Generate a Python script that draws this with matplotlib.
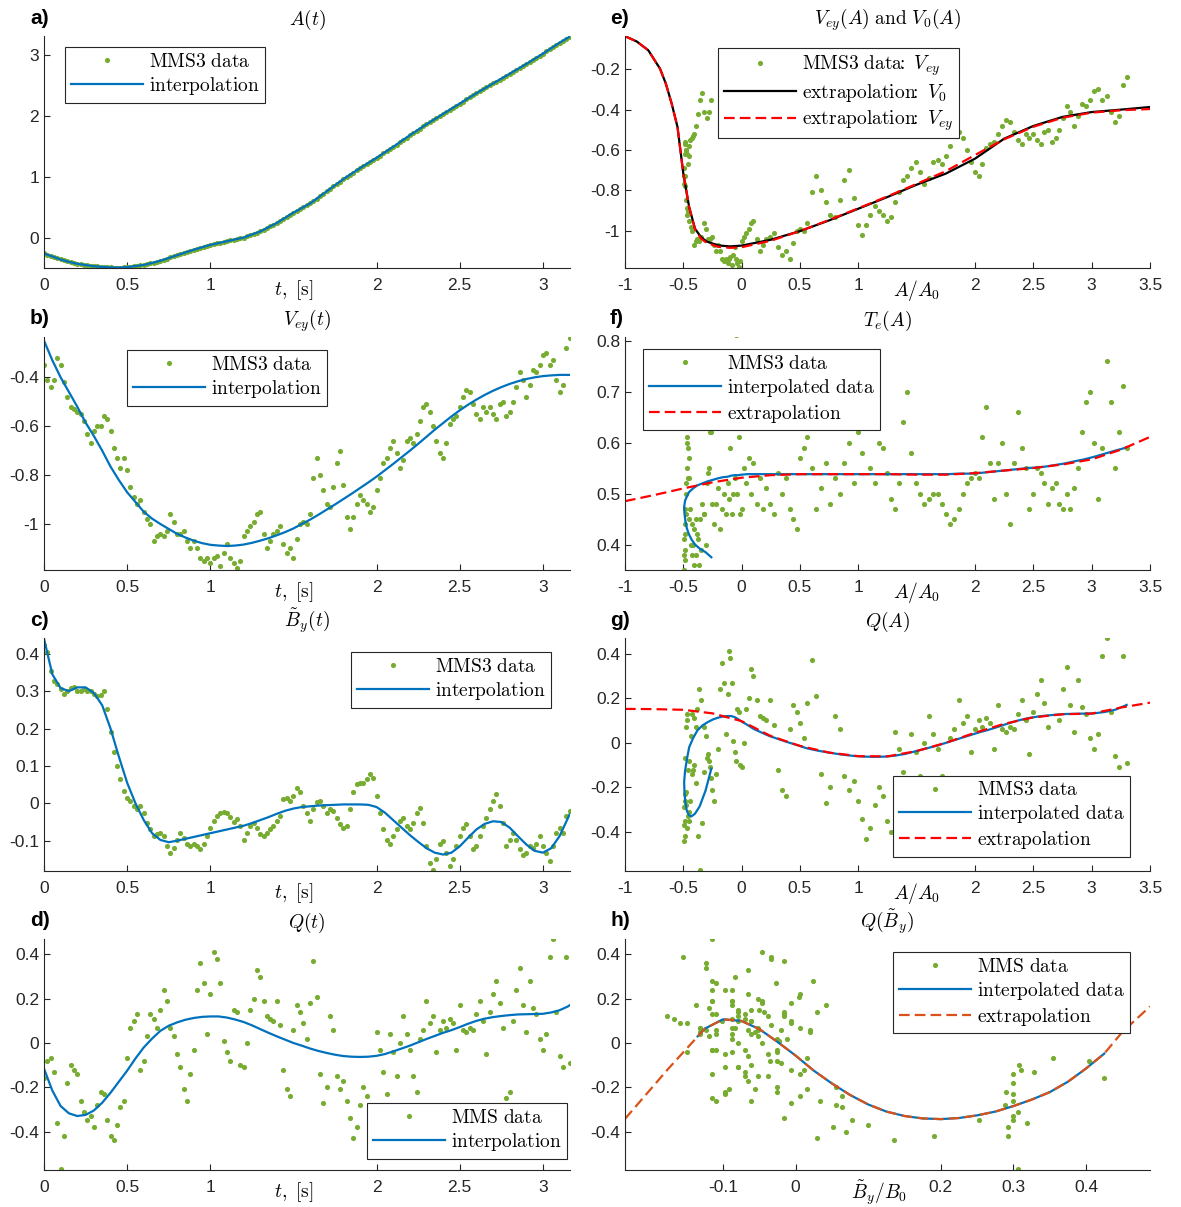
import numpy as np
import matplotlib
matplotlib.use('Agg')
import matplotlib.pyplot as plt
from matplotlib.lines import Line2D

plt.rcParams['mathtext.fontset'] = 'cm'
plt.rcParams['axes.unicode_minus'] = False
plt.rcParams['font.family'] = ['Liberation Sans', 'DejaVu Sans']

GREEN = '#77AC30'
BLUE = '#0072BD'
RED = '#FF0000'
ORANGE = '#D95319'
AXC = '#262626'

# ---------------- data: MMS3 time series (sampled every 0.02 s) ----------------
t = np.round(np.arange(159) * 0.02, 2)

a_data = [
    -0.26, -0.28, -0.30, -0.32, -0.34, -0.36, -0.375, -0.39, -0.405, -0.42,
    -0.43, -0.44, -0.448, -0.455, -0.463, -0.47, -0.475, -0.48, -0.484, -0.487,
    -0.49, -0.492, -0.493, -0.492, -0.489, -0.485, -0.479, -0.472, -0.465, -0.458,
    -0.45, -0.438, -0.424, -0.41, -0.395, -0.38, -0.363, -0.345, -0.327, -0.309,
    -0.29, -0.272, -0.254, -0.236, -0.218, -0.20, -0.184, -0.168, -0.152, -0.136,
    -0.12, -0.108, -0.096, -0.084, -0.072, -0.06, -0.048, -0.036, -0.024, -0.012,
    0.0, 0.02, 0.04, 0.06, 0.08, 0.10, 0.128, 0.156, 0.184, 0.212,
    0.24, 0.274, 0.308, 0.342, 0.376, 0.41, 0.44, 0.47, 0.50, 0.53,
    0.56, 0.60, 0.64, 0.68, 0.72, 0.76, 0.80, 0.84, 0.88, 0.92,
    0.96, 0.996, 1.032, 1.068, 1.104, 1.14, 1.174, 1.208, 1.242, 1.276,
    1.31, 1.346, 1.382, 1.418, 1.454, 1.49, 1.528, 1.566, 1.604, 1.642,
    1.68, 1.716, 1.752, 1.788, 1.824, 1.86, 1.894, 1.928, 1.962, 1.996,
    2.03, 2.064, 2.098, 2.132, 2.166, 2.20, 2.234, 2.268, 2.302, 2.336,
    2.37, 2.402, 2.434, 2.466, 2.498, 2.53, 2.562, 2.594, 2.626, 2.658,
    2.69, 2.722, 2.754, 2.786, 2.818, 2.85, 2.884, 2.918, 2.952, 2.986,
    3.02, 3.056, 3.092, 3.128, 3.164, 3.20, 3.235, 3.265, 3.30]

vey_data = [
    -0.35, -0.41, -0.44, -0.41, -0.32, -0.35, -0.42, -0.48, -0.52, -0.53,
    -0.54, -0.55, -0.58, -0.63, -0.67, -0.62, -0.60, -0.60, -0.56, -0.57,
    -0.62, -0.69, -0.73, -0.77, -0.73, -0.78, -0.85, -0.89, -0.92, -0.90,
    -0.95, -0.98, -1.00, -1.07, -1.05, -1.04, -1.05, -1.03, -0.96, -0.99,
    -1.04, -1.04, -1.03, -1.07, -1.10, -1.07, -1.10, -1.14, -1.15, -1.14,
    -1.16, -1.14, -1.13, -1.17, -1.12, -1.08, -1.14, -1.16, -1.18, -1.15,
    -1.05, -1.03, -1.01, -0.99, -0.96, -0.95, -1.04, -1.10, -1.07, -1.04,
    -1.03, -1.01, -1.08, -1.12, -1.10, -1.14, -1.06, -1.00, -0.99, -1.00,
    -0.96, -0.81, -0.73, -0.80, -0.86, -0.92, -0.93, -0.85, -0.75, -0.70,
    -0.84, -0.97, -1.02, -0.97, -0.92, -0.88, -0.90, -0.92, -0.95, -0.93,
    -0.86, -0.81, -0.75, -0.73, -0.69, -0.66, -0.71, -0.77, -0.74, -0.66,
    -0.65, -0.67, -0.63, -0.58, -0.52, -0.51, -0.54, -0.60, -0.66, -0.71,
    -0.73, -0.67, -0.59, -0.57, -0.56, -0.52, -0.48, -0.45, -0.46, -0.51,
    -0.55, -0.57, -0.52, -0.54, -0.52, -0.55, -0.57, -0.51, -0.50, -0.56,
    -0.54, -0.50, -0.44, -0.38, -0.41, -0.48, -0.43, -0.37, -0.38, -0.35,
    -0.31, -0.30, -0.35, -0.33, -0.41, -0.46, -0.43, -0.28, -0.24]

by_data = [
    0.424, 0.404, 0.355, 0.328, 0.319, 0.306, 0.292, 0.299, 0.308, 0.31,
    0.30, 0.30, 0.306, 0.30, 0.30, 0.292, 0.288, 0.29, 0.30, 0.252,
    0.19, 0.136, 0.10, 0.064, 0.033, 0.015, 0.006, -0.007, -0.016, -0.007,
    -0.025, -0.052, -0.07, -0.088, -0.083, -0.079, -0.088, -0.115, -0.132, -0.119,
    -0.097, -0.079, -0.092, -0.11, -0.115, -0.11, -0.115, -0.123, -0.11, -0.088,
    -0.065, -0.047, -0.034, -0.027, -0.023, -0.025, -0.036, -0.05, -0.043, -0.061,
    -0.097, -0.079, -0.061, -0.052, -0.065, -0.083, -0.088, -0.079, -0.07, -0.061,
    -0.047, -0.034, 0.011, 0.015, 0.006, 0.02, 0.042, 0.029, -0.007, -0.025,
    -0.047, -0.016, 0.004, 0.006, -0.007, -0.025, -0.016, -0.02, -0.038, -0.056,
    -0.065, -0.061, -0.016, 0.029, 0.051, 0.055, 0.055, 0.064, 0.078, 0.069,
    0.02, -0.025, -0.07, -0.097, -0.11, -0.088, -0.07, -0.047, -0.038, -0.061,
    -0.07, -0.052, -0.025, -0.012, -0.052, -0.115, -0.159, -0.177, -0.15, -0.11,
    -0.101, -0.132, -0.168, -0.15, -0.115, -0.088, -0.065, -0.056, -0.088, -0.123,
    -0.115, -0.088, -0.061, -0.038, -0.016, 0.006, 0.024, -0.007, -0.052, -0.115,
    -0.097, -0.079, -0.097, -0.123, -0.137, -0.132, -0.115, -0.119, -0.11, -0.088,
    -0.115, -0.132, -0.155, -0.115, -0.079, -0.065, -0.079, -0.034, -0.02]

q_data = [
    -0.16, -0.08, -0.07, -0.13, -0.36, -0.57, -0.42, -0.18, -0.10, -0.12,
    -0.14, -0.26, -0.31, -0.35, -0.33, -0.38, -0.28, -0.22, -0.23, -0.35,
    -0.42, -0.44, -0.37, -0.29, -0.26, -0.07, 0.07, 0.10, 0.13, -0.12,
    -0.08, 0.03, 0.13, 0.11, 0.07, 0.15, 0.24, 0.19, 0.07, 0.03,
    -0.05, -0.11, -0.21, -0.26, -0.14, -0.03, 0.24, 0.36, 0.27, 0.04,
    0.22, 0.41, 0.38, 0.27, 0.01, -0.04, -0.08, 0.15, 0.14, -0.10,
    -0.11, 0.0, 0.15, 0.20, 0.33, 0.30, 0.19, 0.12, 0.11, 0.10,
    0.19, 0.08, -0.12, -0.21, -0.24, 0.06, 0.17, 0.14, 0.09, 0.02,
    0.18, 0.37, 0.21, -0.14, -0.27, -0.20, 0.12, 0.06, -0.15, -0.21,
    -0.17, -0.26, -0.34, -0.43, -0.38, -0.28, -0.20, -0.24, -0.35, -0.40,
    0.05, -0.03, -0.13, -0.23, 0.04, -0.04, -0.15, 0.0, 0.12, 0.04,
    -0.03, -0.15, -0.22, 0.02, 0.06, 0.19, 0.09, 0.12, -0.04, 0.06,
    0.10, 0.07, 0.11, 0.09, -0.03, 0.17, 0.06, 0.05, 0.07, 0.06,
    0.13, 0.19, 0.10, -0.05, 0.14, 0.22, 0.28, 0.18, 0.07, -0.25,
    -0.22, 0.10, 0.24, 0.34, 0.17, 0.05, 0.28, 0.16, 0.13, 0.02,
    -0.03, 0.04, 0.39, 0.47, 0.14, -0.06, -0.11, 0.39, -0.09]

te_data = [
    0.62, 0.55, 0.52, 0.46, 0.48, 0.45, 0.41, 0.38, 0.36, 0.40,
    0.44, 0.47, 0.53, 0.57, 0.59, 0.55, 0.50, 0.46, 0.42, 0.39,
    0.37, 0.35, 0.38, 0.41, 0.44, 0.47, 0.52, 0.61, 0.60, 0.53,
    0.45, 0.40, 0.38, 0.43, 0.45, 0.42, 0.36, 0.39, 0.46, 0.40,
    0.54, 0.62, 0.48, 0.44, 0.48, 0.51, 0.43, 0.47, 0.50, 0.46,
    0.52, 0.49, 0.59, 0.46, 0.50, 0.53, 0.81, 0.50, 0.61, 0.46,
    0.47, 0.55, 0.52, 0.57, 0.50, 0.56, 0.48, 0.53, 0.47, 0.51,
    0.48, 0.46, 0.54, 0.50, 0.53, 0.47, 0.45, 0.43, 0.57, 0.59,
    0.61, 0.55, 0.47, 0.51, 0.56, 0.48, 0.53, 0.50, 0.56, 0.60,
    0.52, 0.62, 0.58, 0.63, 0.55, 0.52, 0.60, 0.59, 0.54, 0.49,
    0.47, 0.52, 0.64, 0.70, 0.58, 0.52, 0.50, 0.48, 0.49, 0.50,
    0.50, 0.48, 0.46, 0.44, 0.45, 0.47, 0.50, 0.52, 0.53, 0.54,
    0.53, 0.61, 0.67, 0.56, 0.49, 0.56, 0.60, 0.50, 0.44, 0.56,
    0.66, 0.59, 0.55, 0.47, 0.50, 0.55, 0.54, 0.52, 0.48, 0.51,
    0.52, 0.48, 0.47, 0.50, 0.47, 0.51, 0.55, 0.62, 0.68, 0.70,
    0.60, 0.49, 0.59, 0.76, 0.68, 0.55, 0.62, 0.71, 0.59]

# ---------------- interpolation curves (every 0.05 s) ----------------
t_c = np.append(np.round(np.arange(64) * 0.05, 2), 3.16)

a_int = [
    -0.26, -0.31, -0.36, -0.40, -0.43, -0.452, -0.47, -0.482, -0.49, -0.493,
    -0.485, -0.468, -0.45, -0.417, -0.38, -0.336, -0.29, -0.245, -0.20, -0.16,
    -0.12, -0.09, -0.06, -0.03, 0.0, 0.05, 0.10, 0.17, 0.24, 0.325,
    0.41, 0.485, 0.56, 0.66, 0.76, 0.86, 0.96, 1.05, 1.14, 1.225,
    1.31, 1.40, 1.49, 1.585, 1.68, 1.77, 1.86, 1.945, 2.03, 2.115,
    2.20, 2.285, 2.37, 2.45, 2.53, 2.61, 2.69, 2.77, 2.85, 2.935,
    3.02, 3.11, 3.20, 3.28, 3.30]

vey_int = [
    -0.25, -0.33, -0.40, -0.46, -0.52, -0.585, -0.64, -0.70, -0.765, -0.82,
    -0.87, -0.91, -0.95, -0.978, -1.00, -1.02, -1.04, -1.055, -1.068, -1.078,
    -1.085, -1.088, -1.09, -1.088, -1.084, -1.077, -1.068, -1.058, -1.046, -1.033,
    -1.018, -1.00, -0.982, -0.962, -0.941, -0.92, -0.898, -0.876, -0.853, -0.83,
    -0.806, -0.78, -0.754, -0.727, -0.70, -0.672, -0.643, -0.614, -0.587, -0.56,
    -0.535, -0.512, -0.491, -0.472, -0.455, -0.44, -0.427, -0.416, -0.407, -0.40,
    -0.395, -0.392, -0.39, -0.39, -0.39]

by_int = [
    0.44, 0.345, 0.308, 0.30, 0.31, 0.31, 0.295, 0.262, 0.20, 0.125,
    0.055, 0.0, -0.045, -0.08, -0.098, -0.104, -0.10, -0.095, -0.09, -0.085,
    -0.08, -0.075, -0.07, -0.065, -0.06, -0.053, -0.045, -0.037, -0.028, -0.02,
    -0.014, -0.01, -0.008, -0.006, -0.005, -0.004, -0.003, -0.003, -0.003, -0.004,
    -0.01, -0.025, -0.045, -0.065, -0.085, -0.103, -0.12, -0.132, -0.137, -0.132,
    -0.115, -0.092, -0.07, -0.055, -0.048, -0.05, -0.065, -0.088, -0.11, -0.127,
    -0.132, -0.12, -0.088, -0.04, -0.03]

q_int = [
    -0.116, -0.215, -0.285, -0.318, -0.33, -0.325, -0.305, -0.27, -0.225, -0.175,
    -0.125, -0.07, -0.02, 0.02, 0.055, 0.078, 0.093, 0.105, 0.113, 0.118,
    0.12, 0.12, 0.115, 0.106, 0.095, 0.08, 0.063, 0.046, 0.03, 0.015,
    0.0, -0.012, -0.025, -0.036, -0.045, -0.053, -0.059, -0.062, -0.063, -0.062,
    -0.058, -0.05, -0.038, -0.025, -0.012, 0.003, 0.018, 0.032, 0.046, 0.058,
    0.072, 0.087, 0.10, 0.11, 0.117, 0.122, 0.126, 0.129, 0.13, 0.131,
    0.132, 0.138, 0.148, 0.165, 0.17]

te_int = [
    0.375, 0.385, 0.392, 0.40, 0.41, 0.42, 0.432, 0.446, 0.46, 0.474,
    0.486, 0.495, 0.503, 0.51, 0.516, 0.52, 0.524, 0.527, 0.53, 0.532,
    0.533, 0.535, 0.536, 0.536, 0.537, 0.538, 0.538, 0.538, 0.538, 0.538,
    0.538, 0.538, 0.538, 0.538, 0.538, 0.538, 0.538, 0.538, 0.538, 0.538,
    0.538, 0.538, 0.538, 0.538, 0.538, 0.538, 0.539, 0.539, 0.540, 0.542,
    0.544, 0.546, 0.548, 0.55, 0.551, 0.553, 0.556, 0.559, 0.563, 0.567,
    0.572, 0.578, 0.584, 0.589, 0.591]

# ---------------- extrapolations as functions of A/A0 ----------------
e_A = [-1, -0.9, -0.8, -0.7, -0.65, -0.6, -0.55, -0.5, -0.45, -0.4, -0.35, -0.3,
       -0.2, -0.1, 0, 0.25, 0.5, 0.75, 1, 1.25, 1.5, 1.75, 2, 2.25, 2.5, 2.75,
       3, 3.25, 3.5]
v0_ext = [-0.036, -0.062, -0.106, -0.197, -0.271, -0.37, -0.486, -0.717, -0.883,
          -0.99, -1.031, -1.054, -1.073, -1.078, -1.074, -1.045, -1.002, -0.949,
          -0.891, -0.833, -0.772, -0.717, -0.643, -0.544, -0.481, -0.436, -0.412,
          -0.40, -0.387]
vey_ext = [-0.036, -0.062, -0.106, -0.197, -0.271, -0.37, -0.486, -0.717, -0.883,
           -0.993, -1.038, -1.061, -1.08, -1.085, -1.082, -1.05, -1.002, -0.947,
           -0.889, -0.83, -0.768, -0.705, -0.625, -0.547, -0.485, -0.44, -0.415,
           -0.403, -0.397]

x_A = [-1, -0.75, -0.5, -0.25, 0, 0.25, 0.5, 0.75, 1, 1.25, 1.5, 1.75, 2,
       2.25, 2.5, 2.75, 3, 3.25, 3.5]
te_ext = [0.485, 0.497, 0.51, 0.522, 0.531, 0.536, 0.538, 0.538, 0.538, 0.538,
          0.537, 0.537, 0.54, 0.545, 0.55, 0.557, 0.567, 0.586, 0.611]
q_ext = [0.152, 0.151, 0.148, 0.132, 0.097, 0.03, -0.014, -0.044, -0.06, -0.061,
         -0.037, 0.0, 0.045, 0.085, 0.114, 0.128, 0.131, 0.158, 0.18]

# ---------------- Q as a function of B_y ----------------
hb_ext = [-0.235, -0.2, -0.175, -0.15, -0.125, -0.1, -0.075, -0.05, -0.025, 0,
          0.025, 0.05, 0.075, 0.1, 0.125, 0.15, 0.175, 0.2, 0.225, 0.25, 0.275,
          0.3, 0.325, 0.35, 0.375, 0.4, 0.425, 0.45, 0.488]
hq_ext = [-0.343, -0.21, -0.115, -0.025, 0.065, 0.107, 0.10, 0.063, 0.005, -0.057,
          -0.125, -0.183, -0.235, -0.278, -0.31, -0.33, -0.341, -0.344, -0.339,
          -0.327, -0.31, -0.285, -0.256, -0.222, -0.175, -0.115, -0.048, 0.05, 0.165]
hb_int = [-0.135, -0.125, -0.1, -0.075, -0.05, -0.025, 0, 0.025, 0.05, 0.075, 0.1,
          0.125, 0.15, 0.175, 0.2, 0.225, 0.25, 0.275, 0.3, 0.325, 0.35, 0.375,
          0.4, 0.425]
hq_int = [0.03, 0.065, 0.107, 0.10, 0.063, 0.005, -0.057, -0.125, -0.183, -0.235,
          -0.278, -0.31, -0.33, -0.341, -0.344, -0.339, -0.327, -0.31, -0.285,
          -0.256, -0.222, -0.175, -0.115, -0.048]

# ---------------- tick labels ----------------
t_ticks = [0, 0.5, 1, 2, 2.5, 3]
t_labels = ['0', '0.5', '1', '2', '2.5', '3']
A_ticks = [-1, -0.5, 0, 0.5, 1, 2, 2.5, 3, 3.5]
A_labels = ['-1', '-0.5', '0', '0.5', '1', '2', '2.5', '3', '3.5']
B_ticks = [-0.1, 0, 0.2, 0.3, 0.4]
B_labels = ['-0.1', '0', '0.2', '0.3', '0.4']

# ======================================================================
W, H = 1181, 1207
fig = plt.figure(figsize=(W / 100, H / 100), dpi=100)
COLS = {'L': (44, 570), 'R': (625, 1150)}
ROWS = [(36, 268), (337, 570), (638, 871), (939, 1170)]
PIX = {}

MS = 3.7
LW = 1.6
DASH = (4.8, 2.3)


def make_axes(col, row):
    x0, x1 = COLS[col]
    y0, y1 = ROWS[row]
    ax = fig.add_axes([x0 / W, 1 - y1 / H, (x1 - x0) / W, (y1 - y0) / H])
    PIX[ax] = (x0, x1, y0, y1)
    return ax


def style(ax, xlim, ylim, xt, xtl, yt, ytl):
    ax.set_xlim(*xlim)
    ax.set_ylim(*ylim)
    for s in ('top', 'right'):
        ax.spines[s].set_visible(False)
    for s in ('left', 'bottom'):
        ax.spines[s].set_color(AXC)
        ax.spines[s].set_linewidth(0.8)
    ax.set_xticks(xt)
    ax.set_xticklabels(xtl)
    ax.set_yticks(yt)
    ax.set_yticklabels(ytl)
    ax.tick_params(direction='in', length=4.5, width=0.8, colors=AXC, labelsize=12.5)
    ax.tick_params(axis='x', pad=7)
    ax.tick_params(axis='y', pad=3.5)


def xlab(ax, x, s):
    ax.annotate(s, xy=(x, 0), xycoords=('data', 'axes fraction'), xytext=(0, -16),
                textcoords='offset points', ha='center', va='center', fontsize=14,
                annotation_clip=False)


def title(ax, s):
    ax.set_title(s, fontsize=14, pad=8)


def legend(ax, handles, labels, px, py, loc):
    x0, x1, y0, y1 = PIX[ax]
    bx = (px - x0) / (x1 - x0)
    by = (y1 - py) / (y1 - y0)
    leg = ax.legend(handles, labels, loc=loc, bbox_to_anchor=(bx, by),
                    borderaxespad=0, fontsize=14, handlelength=3.7,
                    handletextpad=0.3, borderpad=0.3, labelspacing=0.2,
                    frameon=True, fancybox=False, framealpha=1, edgecolor=AXC)
    leg.get_frame().set_linewidth(0.8)
    return leg


dot_h = Line2D([], [], ls='none', marker='o', ms=MS, mfc=GREEN, mec='none')
blue_h = Line2D([], [], color=BLUE, lw=LW)
black_h = Line2D([], [], color='black', lw=LW)
red_h = Line2D([], [], color=RED, lw=LW, dashes=DASH)
orange_h = Line2D([], [], color=ORANGE, lw=LW, dashes=DASH)

L_MMS3 = r'$\mathrm{MMS3\ data}$'
L_MMS = r'$\mathrm{MMS\ data}$'
L_INT = r'$\mathrm{interpolation}$'
L_INTD = r'$\mathrm{interpolated\ data}$'
L_EXT = r'$\mathrm{extrapolation}$'


def dots(ax, x, y):
    ax.plot(x, y, ls='none', marker='o', ms=MS, mfc=GREEN, mec='none')


tlim = (0, 3.163)

# ---- a) A(t)
ax = make_axes('L', 0)
dots(ax, t, a_data)
ax.plot(t_c, a_int, color=BLUE, lw=LW)
style(ax, tlim, (-0.5, 3.31), t_ticks, t_labels, [0, 1, 2, 3], ['0', '1', '2', '3'])
title(ax, r'$A(t)$')
xlab(ax, 1.5, r'$t,\ [\mathrm{s}]$')
legend(ax, [dot_h, blue_h], [L_MMS3, L_INT], 65, 47, 'upper left')

# ---- b) Vey(t)
ax = make_axes('L', 1)
dots(ax, t, vey_data)
ax.plot(t_c, vey_int, color=BLUE, lw=LW)
style(ax, tlim, (-1.188, -0.235), t_ticks, t_labels,
      [-1, -0.8, -0.6, -0.4], ['-1', '-0.8', '-0.6', '-0.4'])
title(ax, r'$V_{ey}(t)$')
xlab(ax, 1.5, r'$t,\ [\mathrm{s}]$')
legend(ax, [dot_h, blue_h], [L_MMS3, L_INT], 127, 350, 'upper left')

# ---- c) By(t)
ax = make_axes('L', 2)
dots(ax, t, by_data)
ax.plot(t_c, by_int, color=BLUE, lw=LW)
style(ax, tlim, (-0.181, 0.442), t_ticks, t_labels,
      [-0.1, 0, 0.1, 0.2, 0.3, 0.4], ['-0.1', '0', '0.1', '0.2', '0.3', '0.4'])
title(ax, r'$\tilde{B}_y(t)$')
xlab(ax, 1.5, r'$t,\ [\mathrm{s}]$')
legend(ax, [dot_h, blue_h], [L_MMS3, L_INT], 351, 652, 'upper left')

# ---- d) Q(t)
ax = make_axes('L', 3)
dots(ax, t, q_data)
ax.plot(t_c, q_int, color=BLUE, lw=LW)
style(ax, tlim, (-0.574, 0.47), t_ticks, t_labels,
      [-0.4, -0.2, 0, 0.2, 0.4], ['-0.4', '-0.2', '0', '0.2', '0.4'])
title(ax, r'$Q(t)$')
xlab(ax, 1.5, r'$t,\ [\mathrm{s}]$')
legend(ax, [dot_h, blue_h], [L_MMS, L_INT], 567, 1159, 'lower right')

# ---- e) Vey(A), V0(A)
ax = make_axes('R', 0)
dots(ax, a_data, vey_data)
ax.plot(e_A, v0_ext, color='black', lw=LW)
ax.plot(e_A, vey_ext, color=RED, lw=LW, dashes=DASH)
style(ax, (-1, 3.5), (-1.185, -0.035), A_ticks, A_labels,
      [-1, -0.8, -0.6, -0.4, -0.2], ['-1', '-0.8', '-0.6', '-0.4', '-0.2'])
title(ax, r'$V_{ey}(A)\ \mathrm{and}\ V_0(A)$')
xlab(ax, 1.5, r'$A/A_0$')
legend(ax, [dot_h, black_h, red_h],
       [r'$\mathrm{MMS3\ data}\!\!:\ V_{ey}$', r'$\mathrm{extrapolation}\!\!:\ V_0$',
        r'$\mathrm{extrapolation}\!\!:\ V_{ey}$'], 718, 48, 'upper left')

# ---- f) Te(A)
ax = make_axes('R', 1)
dots(ax, a_data, te_data)
ax.plot(a_int, te_int, color=BLUE, lw=LW)
ax.plot(x_A, te_ext, color=RED, lw=LW, dashes=DASH)
style(ax, (-1, 3.5), (0.35, 0.807), A_ticks, A_labels,
      [0.4, 0.5, 0.6, 0.7, 0.8], ['0.4', '0.5', '0.6', '0.7', '0.8'])
title(ax, r'$T_e(A)$')
xlab(ax, 1.5, r'$A/A_0$')
legend(ax, [dot_h, blue_h, red_h], [L_MMS3, L_INTD, L_EXT], 643, 349, 'upper left')

# ---- g) Q(A)
ax = make_axes('R', 2)
dots(ax, a_data, q_data)
ax.plot(a_int, q_int, color=BLUE, lw=LW)
ax.plot(x_A, q_ext, color=RED, lw=LW, dashes=DASH)
style(ax, (-1, 3.5), (-0.575, 0.47), A_ticks, A_labels,
      [-0.4, -0.2, 0, 0.2, 0.4], ['-0.4', '-0.2', '0', '0.2', '0.4'])
title(ax, r'$Q(A)$')
xlab(ax, 1.5, r'$A/A_0$')
legend(ax, [dot_h, blue_h, red_h], [L_MMS3, L_INTD, L_EXT], 893, 857, 'lower left')

# ---- h) Q(By)
ax = make_axes('R', 3)
dots(ax, by_data, q_data)
ax.plot(hb_int, hq_int, color=BLUE, lw=LW)
ax.plot(hb_ext, hq_ext, color=ORANGE, lw=LW, dashes=DASH)
style(ax, (-0.235, 0.488), (-0.574, 0.47), B_ticks, B_labels,
      [-0.4, -0.2, 0, 0.2, 0.4], ['-0.4', '-0.2', '0', '0.2', '0.4'])
title(ax, r'$Q(\tilde{B}_y)$')
xlab(ax, 0.115, r'$\tilde{B}_y/B_0$')
legend(ax, [dot_h, blue_h, orange_h], [L_MMS, L_INTD, L_EXT], 893, 952, 'upper left')

# ---- panel letters
for s, px, py in [('a)', 30, 19), ('b)', 30, 318), ('c)', 30, 620), ('d)', 30, 920),
                  ('e)', 610, 19), ('f)', 610, 318), ('g)', 610, 620), ('h)', 610, 920)]:
    fig.text(px / W, 1 - py / H, s, fontsize=15, fontweight='bold', ha='left',
             va='center', color='black')

fig.savefig('out.png', dpi=100)
